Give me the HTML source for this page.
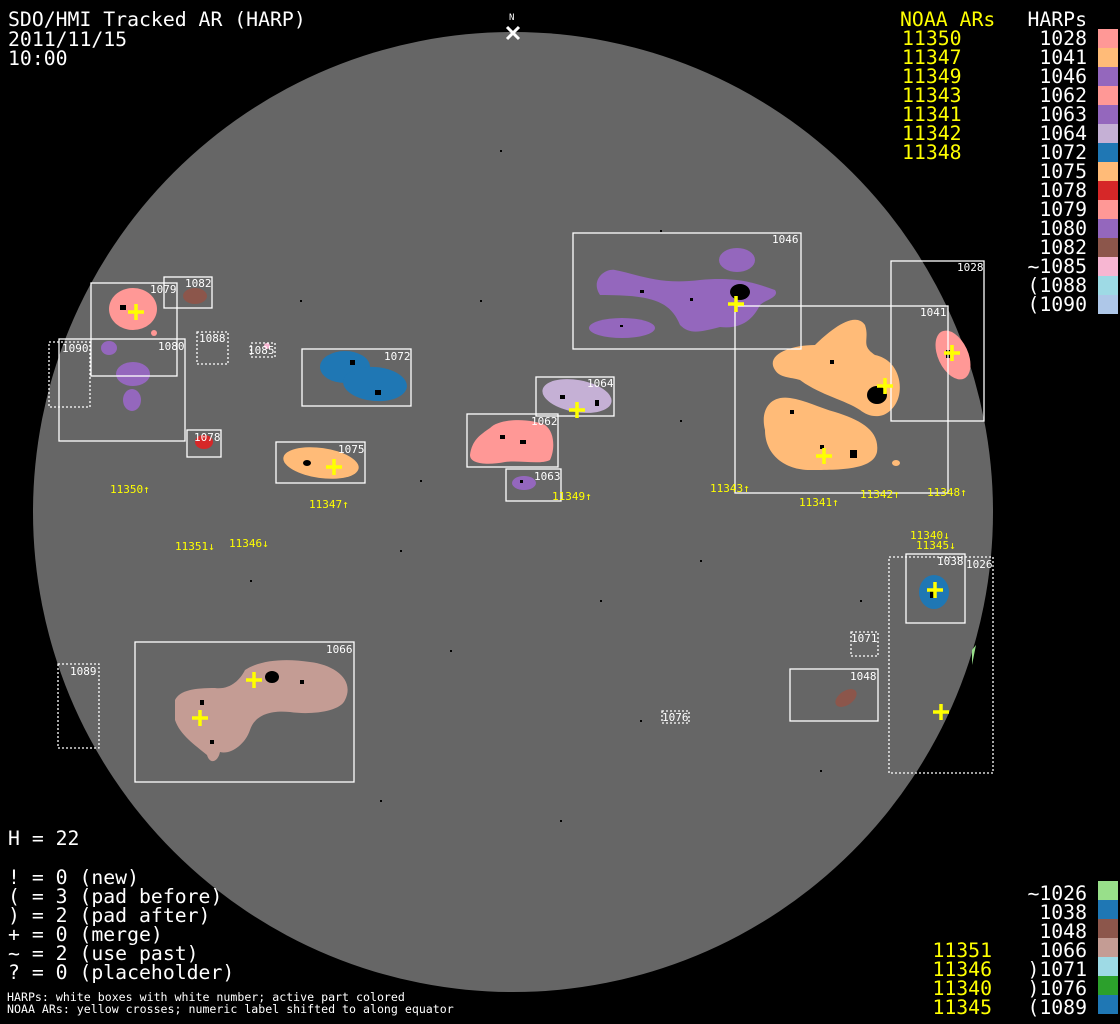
<!DOCTYPE html>
<html><head><meta charset="utf-8"><style>
html,body{margin:0;padding:0;background:#000;width:1120px;height:1024px;overflow:hidden}
svg{display:block}
.m{font-family:"DejaVu Sans Mono","Liberation Mono",monospace}
.b{fill:none;stroke:#fff;stroke-width:1.3}
.d{fill:none;stroke:#fff;stroke-width:1.3;stroke-dasharray:2,2}
.lb{font-family:"DejaVu Sans Mono","Liberation Mono",monospace;font-size:11px;fill:#fff}
.y{font-family:"DejaVu Sans Mono","Liberation Mono",monospace;font-size:11px;fill:#ffff00}
.c{stroke:#ffff00;stroke-width:3.5}
.s{fill:#000}
</style></head><body>
<svg width="1120" height="1024" viewBox="0 0 1120 1024" xmlns="http://www.w3.org/2000/svg">
<rect width="1120" height="1024" fill="#000"/>
<circle cx="513" cy="512" r="480" fill="#666"/>

<path d="M600,295 C590,280 605,268 615,270 C640,275 660,285 700,280 C740,276 760,285 775,290 C780,297 765,300 760,305 C755,315 745,330 720,327 C700,332 690,335 680,325 C670,300 650,295 600,295 Z" fill="#9467bd"/>
<ellipse cx="737" cy="260" rx="18" ry="12" fill="#9467bd"/>
<ellipse cx="622" cy="328" rx="33" ry="10" fill="#9467bd"/>
<ellipse cx="740" cy="292" rx="10" ry="8" class="s"/>
<path d="M775,370 C765,355 790,345 815,345 C830,330 855,310 865,325 C870,340 860,345 875,355 C900,360 905,390 895,405 C885,420 870,418 860,410 C845,400 820,395 800,380 C790,377 780,378 775,370 Z" fill="#ffbb78"/>
<path d="M765,430 C760,410 770,395 790,398 C805,400 820,408 835,412 C860,420 880,430 877,452 C873,470 840,470 810,470 C785,470 765,455 765,430 Z" fill="#ffbb78"/>
<ellipse cx="877" cy="395" rx="10" ry="9" class="s"/>
<ellipse cx="896" cy="463" rx="4" ry="3" fill="#ffbb78"/>
<ellipse cx="953" cy="355" rx="15" ry="26" transform="rotate(-25 953 355)" fill="#ff9896"/>
<ellipse cx="577" cy="396" rx="35" ry="16" transform="rotate(10 577 396)" fill="#c5b0d5"/>
<path d="M470,455 C472,440 480,435 490,428 C500,418 530,418 545,425 C555,432 555,450 550,460 C540,465 520,460 505,462 C490,465 470,465 470,455 Z" fill="#ff9896"/>
<ellipse cx="524" cy="483" rx="12" ry="7" fill="#9467bd"/>
<ellipse cx="345" cy="367" rx="25" ry="16" fill="#1f77b4"/>
<ellipse cx="375" cy="384" rx="32" ry="17" transform="rotate(5 375 384)" fill="#1f77b4"/>
<ellipse cx="321" cy="463" rx="38" ry="15" transform="rotate(8 321 463)" fill="#ffbb78"/>
<ellipse cx="307" cy="463" rx="4" ry="3" class="s"/>
<ellipse cx="133" cy="309" rx="24" ry="21" fill="#ff9896"/>
<circle cx="154" cy="333" r="3" fill="#ff9896"/>
<ellipse cx="195" cy="296" rx="12" ry="8" fill="#8c564b"/>
<ellipse cx="109" cy="348" rx="8" ry="7" fill="#9467bd"/>
<ellipse cx="133" cy="374" rx="17" ry="12" fill="#9467bd"/>
<ellipse cx="132" cy="400" rx="9" ry="11" fill="#9467bd"/>
<ellipse cx="204" cy="442" rx="9" ry="7" fill="#d62728"/>
<circle cx="267" cy="346" r="3" fill="#f7b6d2"/>
<path d="M175,700 C180,690 195,688 215,688 C230,690 240,680 245,670 C260,660 285,658 310,662 C335,665 355,680 345,700 C340,712 310,715 290,712 C270,710 255,715 250,730 C245,745 230,755 220,752 C218,762 210,765 207,755 C195,745 180,735 175,720 Z" fill="#c49c94"/>
<ellipse cx="272" cy="677" rx="7" ry="6" class="s"/>
<ellipse cx="934" cy="592" rx="15" ry="17" fill="#1f77b4"/>
<ellipse cx="846" cy="698" rx="12" ry="7" transform="rotate(-35 846 698)" fill="#8c564b"/>
<path d="M972,650 L976,645 L972,665 Z" fill="#98df8a"/>

<g class="s">
<rect x="640" y="290" width="4" height="3"/><rect x="690" y="298" width="3" height="3"/><rect x="620" y="325" width="3" height="2"/><rect x="790" y="410" width="4" height="4"/><rect x="820" y="445" width="4" height="4"/><rect x="850" y="450" width="7" height="8"/><rect x="830" y="360" width="4" height="4"/><rect x="500" y="435" width="5" height="4"/><rect x="520" y="440" width="6" height="4"/><rect x="560" y="395" width="5" height="4"/><rect x="595" y="400" width="4" height="6"/><rect x="350" y="360" width="5" height="5"/><rect x="375" y="390" width="6" height="5"/><rect x="120" y="305" width="6" height="5"/><rect x="200" y="700" width="4" height="5"/><rect x="210" y="740" width="4" height="4"/><rect x="300" y="680" width="4" height="4"/><rect x="930" y="590" width="4" height="8"/><rect x="946" y="350" width="4" height="8"/><rect x="520" y="480" width="3" height="3"/>
<rect x="400" y="550" width="2" height="2"/><rect x="600" y="600" width="2" height="2"/><rect x="450" y="650" width="2" height="2"/><rect x="700" y="560" width="2" height="2"/><rect x="640" y="720" width="2" height="2"/><rect x="300" y="300" width="2" height="2"/><rect x="480" y="300" width="2" height="2"/><rect x="680" y="420" width="2" height="2"/><rect x="560" y="820" width="2" height="2"/><rect x="380" y="800" width="2" height="2"/><rect x="820" y="770" width="2" height="2"/><rect x="860" y="600" width="2" height="2"/><rect x="420" y="480" width="2" height="2"/><rect x="250" y="580" width="2" height="2"/><rect x="660" y="230" width="2" height="2"/><rect x="500" y="150" width="2" height="2"/>
</g>

<rect x="573" y="233" width="228" height="116" class="b"/>
<rect x="735" y="306" width="213" height="187" class="b"/>
<rect x="891" y="261" width="93" height="160" class="b"/>
<rect x="536" y="377" width="78" height="39" class="b"/>
<rect x="467" y="414" width="91" height="53" class="b"/>
<rect x="506" y="469" width="55" height="32" class="b"/>
<rect x="302" y="349" width="109" height="57" class="b"/>
<rect x="276" y="442" width="89" height="41" class="b"/>
<rect x="91" y="283" width="86" height="93" class="b"/>
<rect x="164" y="277" width="48" height="31" class="b"/>
<rect x="59" y="339" width="126" height="102" class="b"/>
<rect x="187" y="430" width="34" height="27" class="b"/>
<rect x="135" y="642" width="219" height="140" class="b"/>
<rect x="906" y="554" width="59" height="69" class="b"/>
<rect x="790" y="669" width="88" height="52" class="b"/>
<rect x="49" y="342" width="41" height="65" class="d"/>
<rect x="197" y="332" width="31" height="32" class="d"/>
<rect x="251" y="343" width="24" height="14" class="d"/>
<rect x="58" y="664" width="41" height="84" class="d"/>
<rect x="851" y="632" width="27" height="24" class="d"/>
<rect x="889" y="557" width="104" height="216" class="d"/>
<rect x="662" y="711" width="27" height="12" class="d"/>

<g class="lb">
<text x="772" y="243">1046</text><text x="920" y="316">1041</text><text x="957" y="271">1028</text>
<text x="587" y="387">1064</text><text x="531" y="425">1062</text><text x="534" y="480">1063</text>
<text x="384" y="360">1072</text><text x="338" y="453">1075</text><text x="150" y="293">1079</text>
<text x="185" y="287">1082</text><text x="158" y="350">1080</text><text x="62" y="352">1090</text>
<text x="199" y="342">1088</text><text x="248" y="354">1085</text><text x="194" y="441">1078</text>
<text x="326" y="653">1066</text><text x="70" y="675">1089</text><text x="937" y="565">1038</text>
<text x="966" y="568">1026</text><text x="851" y="642">1071</text><text x="850" y="680">1048</text>
<text x="662" y="721">1076</text>
</g>

<g class="c">
<path d="M728,304h16M736,296v16"/><path d="M877,386h16M885,378v16"/><path d="M816,456h16M824,448v16"/>
<path d="M944,353h16M952,345v16"/><path d="M569,410h16M577,402v16"/><path d="M326,467h16M334,459v16"/>
<path d="M128,312h16M136,304v16"/><path d="M246,680h16M254,672v16"/><path d="M192,718h16M200,710v16"/>
<path d="M927,590h16M935,582v16"/><path d="M933,712h16M941,704v16"/>
</g>

<g class="y">
<text x="110" y="493">11350↑</text><text x="309" y="508">11347↑</text><text x="552" y="500">11349↑</text>
<text x="710" y="492">11343↑</text><text x="799" y="506">11341↑</text><text x="860" y="498">11342↑</text>
<text x="927" y="496">11348↑</text><text x="175" y="550">11351↓</text><text x="229" y="547">11346↓</text>
<text x="910" y="539">11340↓</text><text x="916" y="549">11345↓</text>
</g>

<text x="509" y="20" class="m" font-size="9" fill="#fff">N</text>
<path d="M507,27l12,12M519,27l-12,12" stroke="#fff" stroke-width="3"/>

<g class="m" font-size="19.8" fill="#fff">
<text x="8" y="26">SDO/HMI Tracked AR (HARP)</text>
<text x="8" y="46">2011/11/15</text>
<text x="8" y="65">10:00</text>
<text x="8" y="845">H = 22</text>
<text x="8" y="884">! = 0 (new)</text>
<text x="8" y="903">( = 3 (pad before)</text>
<text x="8" y="922">) = 2 (pad after)</text>
<text x="8" y="941">+ = 0 (merge)</text>
<text x="8" y="960">~ = 2 (use past)</text>
<text x="8" y="979">? = 0 (placeholder)</text>
</g>
<g class="m" font-size="11.6" fill="#fff">
<text x="7" y="1001">HARPs: white boxes with white number; active part colored</text>
<text x="7" y="1013">NOAA ARs: yellow crosses; numeric label shifted to along equator</text>
</g>

<g class="m" font-size="19.8" fill="#ffff00">
<text x="900" y="26">NOAA ARs</text>
<text x="902" y="45">11350</text><text x="902" y="64">11347</text><text x="902" y="83">11349</text>
<text x="902" y="102">11343</text><text x="902" y="121">11341</text><text x="902" y="140">11342</text><text x="902" y="159">11348</text>
</g>
<g class="m" font-size="19.8" fill="#fff" text-anchor="end">
<text x="1087" y="26">HARPs</text>
<text x="1087" y="45">1028</text><text x="1087" y="64">1041</text><text x="1087" y="83">1046</text>
<text x="1087" y="102">1062</text><text x="1087" y="121">1063</text><text x="1087" y="140">1064</text>
<text x="1087" y="159">1072</text><text x="1087" y="178">1075</text><text x="1087" y="197">1078</text>
<text x="1087" y="216">1079</text><text x="1087" y="235">1080</text><text x="1087" y="254">1082</text>
<text x="1087" y="273">~1085</text><text x="1087" y="292">(1088</text><text x="1087" y="311">(1090</text>
<text x="1087" y="900">~1026</text><text x="1087" y="919">1038</text><text x="1087" y="938">1048</text>
<text x="1087" y="957">1066</text><text x="1087" y="976">)1071</text><text x="1087" y="995">)1076</text>
<text x="1087" y="1014">(1089</text>
</g>
<g class="m" font-size="19.8" fill="#ffff00" text-anchor="end">
<text x="992" y="957">11351</text><text x="992" y="976">11346</text><text x="992" y="995">11340</text><text x="992" y="1014">11345</text>
</g>
<g>
<rect x="1098" y="29" width="20" height="19" fill="#ff9896"/>
<rect x="1098" y="48" width="20" height="19" fill="#ffbb78"/>
<rect x="1098" y="67" width="20" height="19" fill="#9467bd"/>
<rect x="1098" y="86" width="20" height="19" fill="#ff9896"/>
<rect x="1098" y="105" width="20" height="19" fill="#9467bd"/>
<rect x="1098" y="124" width="20" height="19" fill="#c5b0d5"/>
<rect x="1098" y="143" width="20" height="19" fill="#1f77b4"/>
<rect x="1098" y="162" width="20" height="19" fill="#ffbb78"/>
<rect x="1098" y="181" width="20" height="19" fill="#d62728"/>
<rect x="1098" y="200" width="20" height="19" fill="#ff9896"/>
<rect x="1098" y="219" width="20" height="19" fill="#9467bd"/>
<rect x="1098" y="238" width="20" height="19" fill="#8c564b"/>
<rect x="1098" y="257" width="20" height="19" fill="#f7b6d2"/>
<rect x="1098" y="276" width="20" height="19" fill="#9edae5"/>
<rect x="1098" y="295" width="20" height="19" fill="#aec7e8"/>
<rect x="1098" y="881" width="20" height="19" fill="#98df8a"/>
<rect x="1098" y="900" width="20" height="19" fill="#1f77b4"/>
<rect x="1098" y="919" width="20" height="19" fill="#8c564b"/>
<rect x="1098" y="938" width="20" height="19" fill="#c49c94"/>
<rect x="1098" y="957" width="20" height="19" fill="#9edae5"/>
<rect x="1098" y="976" width="20" height="19" fill="#2ca02c"/>
<rect x="1098" y="995" width="20" height="19" fill="#1f77b4"/>
</g>
</svg>
</body></html>
